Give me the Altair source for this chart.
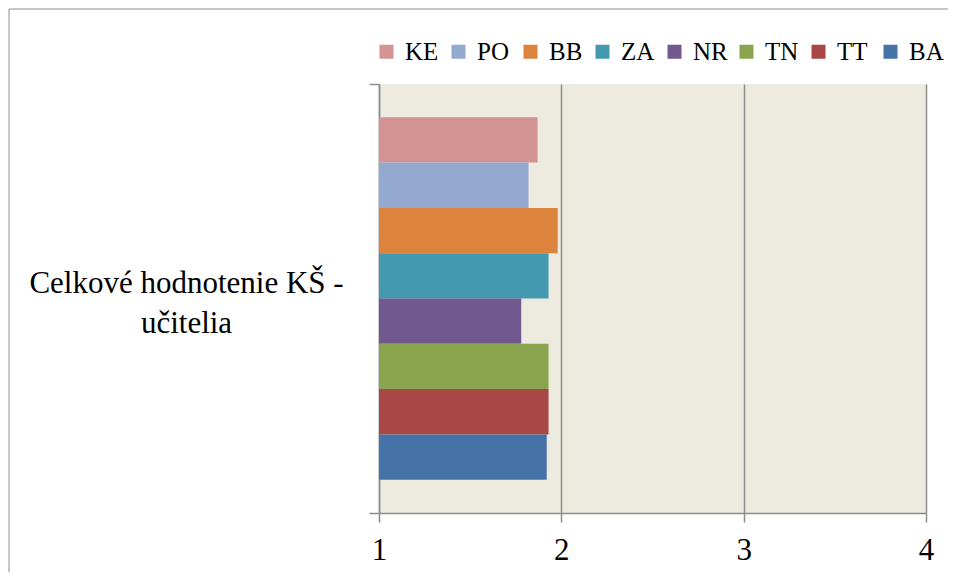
import altair as alt
import pandas as pd

category = ["Celkové hodnotenie KŠ - učitelia"]
regions = ["KE", "PO", "BB", "ZA", "NR", "TN", "TT", "BA"]
values = [1.87, 1.82, 1.98, 1.93, 1.78, 1.93, 1.93, 1.92]
colors = ["#D49393", "#93A9D0", "#DC843E", "#4399B0", "#71588F", "#8AA54E", "#A84745", "#4572A7"]
x_ticks = [1, 2, 3, 4]

df = pd.DataFrame({
    "cat": category * len(regions),
    "region": regions,
    "value": values,
    "base": [1] * len(regions),
})

FONT = "Liberation Serif"
GRAY = "#8C8C8C"

bars = alt.Chart(df).mark_bar(strokeWidth=0).encode(
    x=alt.X("value:Q",
            scale=alt.Scale(domain=[1, 4], zero=False, nice=False),
            axis=alt.Axis(values=x_ticks, title=None, labelFontSize=31, labelFont=FONT,
                          labelColor="black", labelFlush=False, tickSize=9, tickColor=GRAY,
                          tickWidth=1.5, domainColor=GRAY, domainWidth=1.5,
                          grid=True, gridColor=GRAY, gridWidth=1.5, labelPadding=13)),
    x2="base:Q",
    y=alt.Y("cat:N",
            scale=alt.Scale(paddingInner=0, paddingOuter=0),
            axis=alt.Axis(title=None, labelExpr="split(replace(datum.label, ' - ', ' -|'), '|')",
                          labelFontSize=31, labelFont=FONT, labelColor="black",
                          labelAlign="center", labelBaseline="middle", labelLineHeight=40,
                          labelPadding=183, labelLimit=0, labelOffset=-15,
                          tickBand="extent", tickSize=10,
                          tickColor=GRAY, tickWidth=1.5, domainColor=GRAY, domainWidth=1.5,
                          grid=False)),
    yOffset=alt.YOffset("region:N", sort=regions,
                        scale=alt.Scale(paddingInner=0, paddingOuter=0.735)),
    color=alt.Color("region:N",
                    scale=alt.Scale(domain=regions, range=colors),
                    legend=alt.Legend(title=None, orient="none", legendX=-5, legendY=-45,
                                      direction="horizontal", columns=8, symbolType="square",
                                      symbolSize=196, symbolStrokeWidth=0, labelFont=FONT,
                                      labelFontSize=25, labelColor="black", gridAlign="all",
                                      columnPadding=6, symbolOffset=0, labelOffset=6,
                                      padding=0)),
)

border = alt.Chart(pd.DataFrame({"a": [0]})).mark_rect(
    fill=None, stroke="#8C8C8C", strokeWidth=1
).encode(
    x=alt.value(-370), x2=alt.value(700), y=alt.value(-75), y2=alt.value(700)
)

chart = alt.layer(border, bars).properties(
    width=547, height=429,
    autosize=alt.AutoSizeParams(type="none"),
    padding={"left": 371, "top": 76, "right": 22, "bottom": 59},
).configure_view(fill="#EDEBE0", stroke=None)

chart.save("out.html", embed_options={"renderer": "svg", "actions": False})
